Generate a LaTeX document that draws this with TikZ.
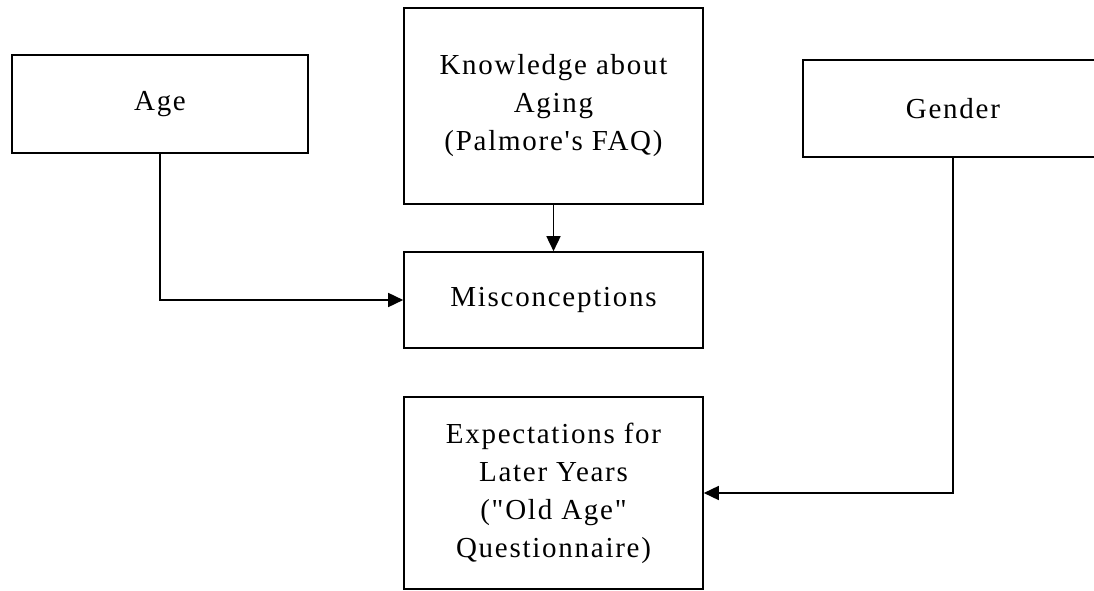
\documentclass[tikz,border=0pt]{standalone}
\usepackage{fontspec}
\setmainfont[LetterSpace=6,Ligatures=TeXOff]{Liberation Serif}
\usetikzlibrary{arrows.meta}
\tikzset{x=0.5pt, y=0.5pt}
\tikzset{box/.style={draw, line width=0.8pt, align=center, inner sep=0pt,
  font=\fontsize{14.5}{19}\selectfont}}

\begin{document}
\begin{tikzpicture}[x=0.5pt,y=0.5pt,>={Triangle[length=7.5pt,width=7pt]}]
\clip (0,0) rectangle (1094,590);
% top row
\node[box, minimum width=148pt, minimum height=49pt] (age) at (160,486) {Age};
\node[box, minimum width=149.5pt, minimum height=98pt] (know) at (553.5,484)
  {Knowledge about\\Aging\\(Palmore's FAQ)};
\node[box, minimum width=150pt, minimum height=48.5pt] (gender) at (953,481.5) {Gender};
% middle and bottom
\node[box, minimum width=149.5pt, minimum height=48pt] (miscon) at (553.5,290) {Misconceptions};
\node[box, minimum width=149.5pt, minimum height=96pt] (expect) at (553.5,97)
  {Expectations for\\Later Years\\("Old Age"\\Questionnaire)};
% connectors
\draw[->, line width=0.8pt] (age.south) |- (miscon.west);
\draw[->, line width=0.8pt] (know.south) -- (miscon.north);
\draw[->, line width=0.8pt] (gender.south) |- (expect.east);
\end{tikzpicture}
\end{document}
